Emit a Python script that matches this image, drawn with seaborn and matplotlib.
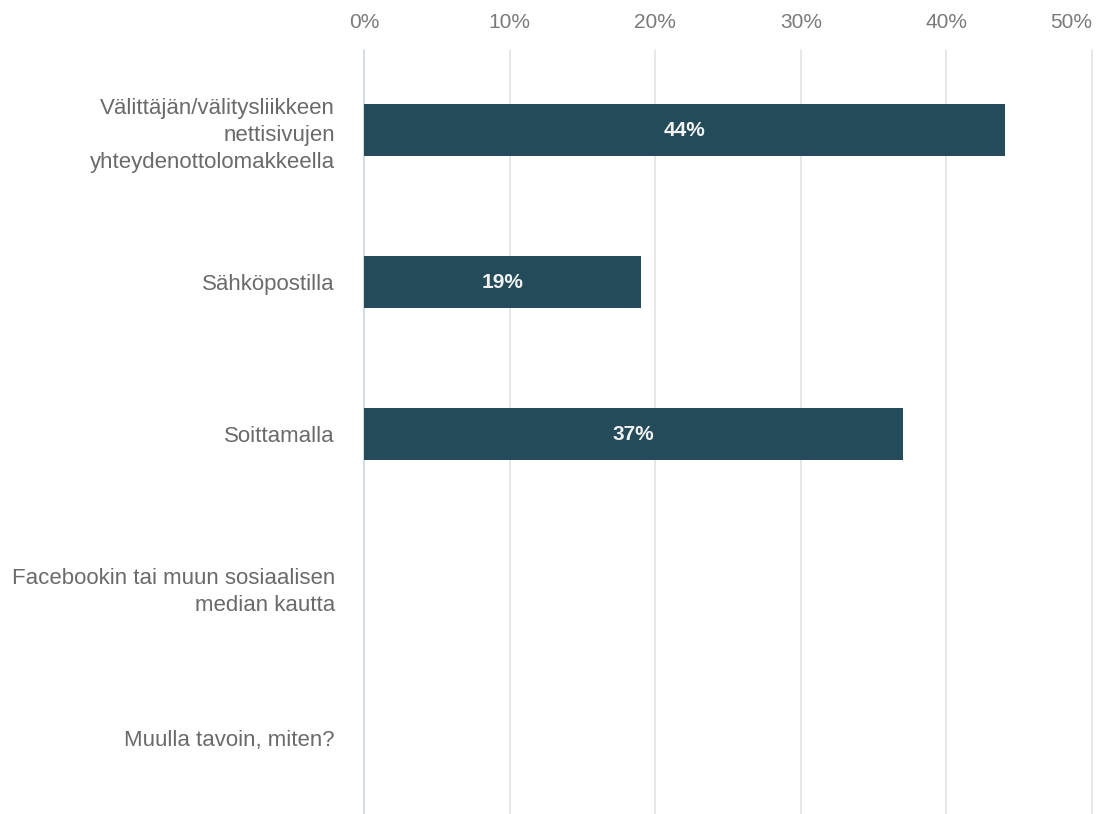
import matplotlib
matplotlib.use("Agg")
import matplotlib.pyplot as plt
import seaborn as sns
import pandas as pd

categories = [
    "Välittäjän/välitysliikkeen\nnettisivujen\nyhteydenottolomakkeella",
    "Sähköpostilla",
    "Soittamalla",
    "Facebookin tai muun sosiaalisen\nmedian kautta",
    "Muulla tavoin, miten?",
]
shares = [44, 19, 37, 0, 0]
tick_values = [0, 10, 20, 30, 40, 50]
tick_labels = ["0%", "10%", "20%", "30%", "40%", "50%"]

sns.set_theme(style="white")
plt.rcParams["font.family"] = ["Liberation Sans", "DejaVu Sans"]

df = pd.DataFrame({"kanava": categories, "osuus": shares})

fig = plt.figure(figsize=(11.02, 8.14), dpi=100)
ax = fig.add_axes([0.3303, 0.0, 0.6607, 760 / 814])

sns.barplot(data=df, x="osuus", y="kanava", orient="h", color="#234b5a",
            saturation=1, width=0.342, linewidth=0, ax=ax, zorder=3)

ax.set_xlim(0, 50)
ax.set_xticks(tick_values)
ax.set_xticklabels(tick_labels)
ax.xaxis.tick_top()
ax.tick_params(axis="x", length=0, pad=16, labelsize=15, labelcolor="#7a7a7a")
ax.tick_params(axis="y", length=0, pad=21, labelsize=16, labelcolor="#6a6a6a")
ax.get_xticklabels()[-1].set_horizontalalignment("right")
for lbl in ax.get_yticklabels():
    lbl.set_horizontalalignment("right")
    lbl.set_multialignment("right")
    lbl.set_linespacing(1.39)
ax.set_xlabel("")
ax.set_ylabel("")

for v in tick_values:
    ax.axvline(v, ymin=0, ymax=1 + 4 / 760, clip_on=False,
               color="#cbd4e2" if v == 0 else "#e3e3e3", lw=1.2, zorder=1)
for s in ax.spines.values():
    s.set_visible(False)

for i, v in enumerate(shares):
    if v > 0:
        ax.text(v / 2, i, f"{v}%", ha="center", va="center", color="#f2f2f2",
                fontsize=15, fontweight="bold", zorder=4)

fig.savefig("out.png", dpi=100)
